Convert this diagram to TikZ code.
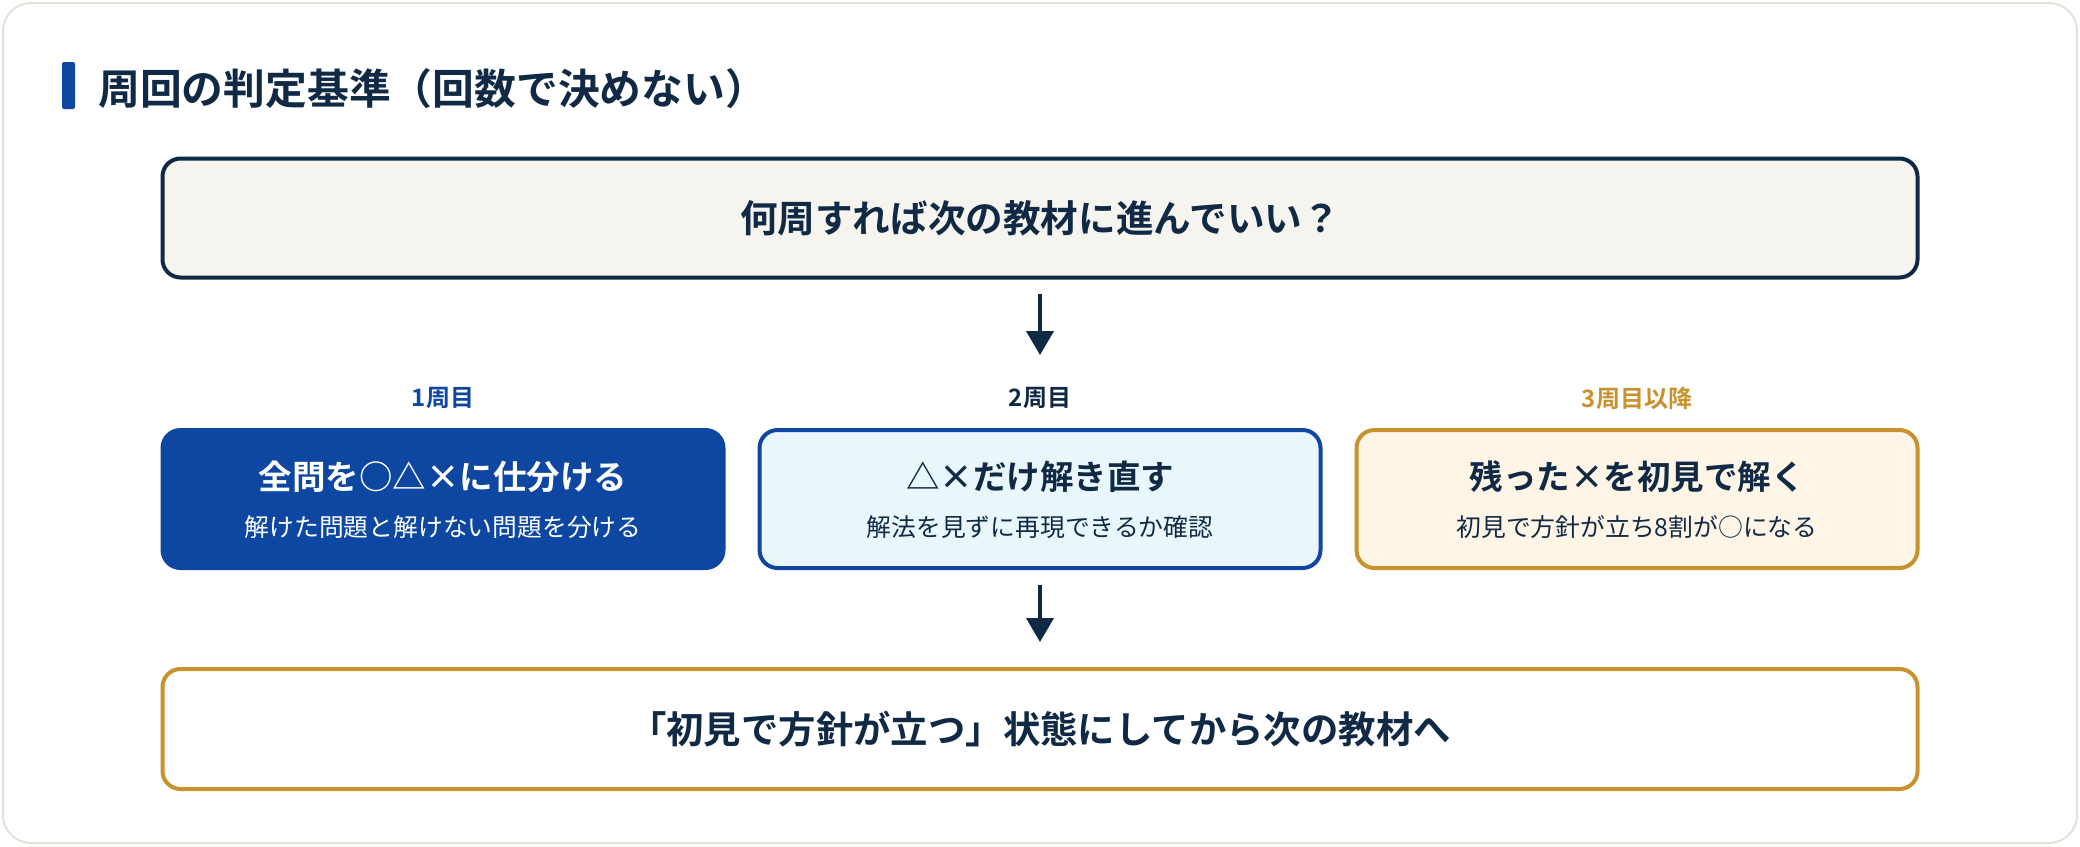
\documentclass[tikz,border=0pt]{standalone}
\usepackage{fontspec}
\setmainfont{Noto Sans CJK JP}[BoldFont={* Bold}]
\usetikzlibrary{arrows.meta}
\definecolor{navy}{HTML}{102A45}
\definecolor{mblue}{HTML}{0D47A1}
\definecolor{gold}{HTML}{C8922F}
\definecolor{lblue}{HTML}{E9F7FD}
\definecolor{cream}{HTML}{FEF5E6}
\definecolor{topfill}{HTML}{F5F4EF}
\definecolor{frame}{HTML}{E4E2D8}
\tikzset{
  box/.style={rectangle, rounded corners=18pt, line width=4pt, minimum width=1755pt, inner sep=0pt},
  stepbox/.style={rectangle, rounded corners=18pt, line width=4pt, minimum width=561pt, minimum height=138pt, inner sep=0pt},
  lab/.style={font=\fontsize{24}{28}\selectfont\bfseries, inner sep=0pt},
  maintxt/.style={font=\fontsize{33.5}{38}\selectfont\bfseries, inner sep=0pt},
  subtxt/.style={font=\fontsize{24.8}{28}\selectfont, inner sep=0pt},
  arr/.style={navy, line width=4pt, -{Triangle[width=27pt,length=24pt]}},
}
\begin{document}
\begin{tikzpicture}[x=1pt,y=-1pt]
\useasboundingbox (0,0) rectangle (2080,846);
\node[draw=frame, fill=white, line width=2pt, rounded corners=28pt, minimum width=2074pt, minimum height=840pt, inner sep=0pt] (frm) at (1040,423) {};
\fill[mblue, rounded corners=2pt] (62,62) rectangle (75,109);
\node[anchor=west, text=navy, font=\fontsize{41.8}{46}\selectfont\bfseries, inner sep=0pt] (title) at (98,89) {周回の判定基準（回数で決めない）};
% top question
\node[box, draw=navy, fill=topfill, minimum height=119pt, text=navy, font=\fontsize{37.6}{42}\selectfont\bfseries] (q) at (1040,218) {何周すれば次の教材に進んでいい？};
% labels
\node[lab, text=mblue] (l1) at (443,398) {1周目};
\node[lab, text=navy] (l2) at (1040,398) {2周目};
\node[lab, text=gold] (l3) at (1637,398) {3周目以降};
% step boxes
\node[stepbox, draw=mblue, fill=mblue] (b1) at (443,499) {};
\node[stepbox, draw=mblue, fill=lblue] (b2) at (1040,499) {};
\node[stepbox, draw=gold, fill=cream] (b3) at (1637,499) {};
\node[maintxt, text=white] (b1t) at (443,477) {全問を○△×に仕分ける};
\node[subtxt, text=white] (b1s) at (443,527) {解けた問題と解けない問題を分ける};
\node[maintxt, text=navy] (b2t) at (1040,477) {△×だけ解き直す};
\node[subtxt, text=navy] (b2s) at (1040,527) {解法を見ずに再現できるか確認};
\node[maintxt, text=navy] (b3t) at (1637,477) {残った×を初見で解く};
\node[subtxt, text=navy] (b3s) at (1637,527) {初見で方針が立ち8割が○になる};
% bottom
\node[box, draw=gold, fill=white, minimum height=120pt, text=navy, font=\fontsize{37.4}{42}\selectfont\bfseries] (res) at (1040,729) {「初見で方針が立つ」状態にしてから次の教材へ};
% arrows
\draw[arr] ([yshift=-14pt]q.south) -- ([yshift=32pt]l2.north);
\draw[arr] ([yshift=-15pt]b2.south) -- ([yshift=25pt]res.north);
\end{tikzpicture}
\end{document}
